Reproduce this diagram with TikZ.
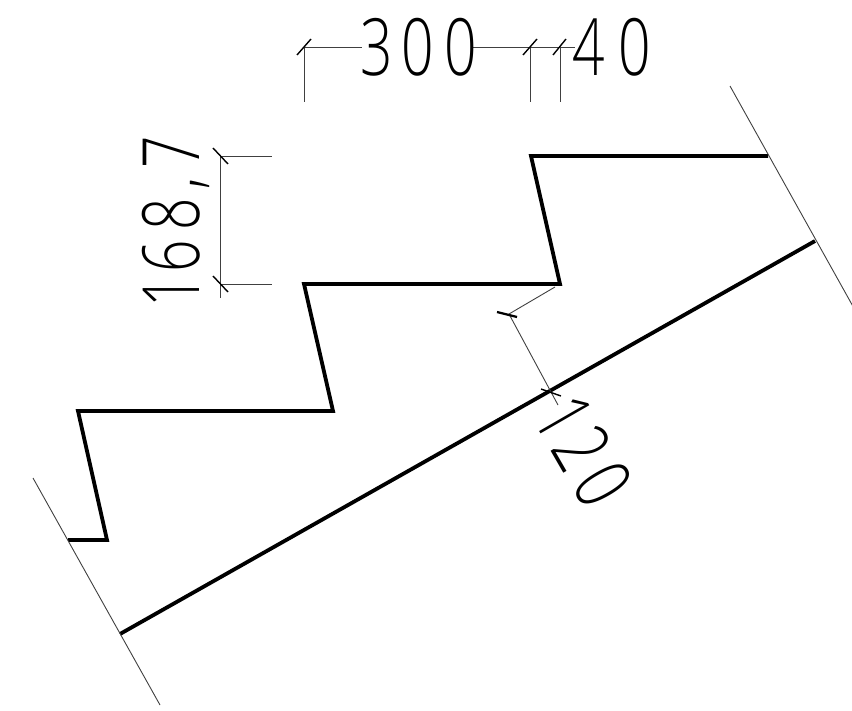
\documentclass[tikz,border=0pt]{standalone}
\usepackage{fontspec}
\newfontfamily\cadfont{Open Sans Light}
\tikzset{
  thin line/.style={line width=0.9pt,draw=black!75},
  heavy line/.style={line width=3.8pt,draw=black,line join=miter},
  tick line/.style={line width=1.4pt,draw=black},
  dimtext/.style={inner sep=0pt,font=\cadfont\fontsize{79}{79}\selectfont,xscale=0.72}
}
\begin{document}
\begin{tikzpicture}[x=1pt,y=-1pt]
\useasboundingbox (0,0) rectangle (852,711);
% stair and soffit
\draw[heavy line] (68,540) -- (107,540) -- (78,411) -- (333,411) -- (304,284) -- (560,284) -- (531,156) -- (768,156);
\draw[heavy line] (120,634) -- (815,241);
% end lines
\draw[thin line] (730,86) -- (855,310);
\draw[thin line] (33,478) -- (160,705);
% top dimension
\draw[thin line] (304,102) -- (304,47);
\draw[thin line] (530,102) -- (530,47);
\draw[thin line] (560,102) -- (560,47);
\draw[thin line] (304,47) -- (362,47);
\draw[thin line] (472,47) -- (575,47);
\draw[tick line] (297,55) -- (311,39);
\draw[tick line] (523,55) -- (537,39);
\draw[tick line] (553,55) -- (566,39);
% left dimension
\draw[thin line] (220,156) -- (220,298);
\draw[thin line] (220,156) -- (272,156);
\draw[thin line] (220,284) -- (272,284);
\draw[tick line] (213,148) -- (228,164);
\draw[tick line] (213,276) -- (228,292);
% slanted dimension
\draw[thin line] (555,287) -- (509,314) -- (558,405);
\draw[line width=2.2pt] (497,312) -- (517,317);
\draw[tick line] (541,389) -- (561,396);
% labels
\node[dimtext] (t300) at (418.5,47) {3\kern12pt0\kern15pt0};
\node[dimtext] (t40) at (612,47) {4\kern19pt0};
\node[rotate=90,dimtext] (t168) at (176,222) {1\kern4pt6\kern13pt8\kern12pt,\kern11pt7};
\node[rotate=-60,dimtext] (t120) at (584,451) {1\kern5pt2\kern13pt0};
\end{tikzpicture}
\end{document}
